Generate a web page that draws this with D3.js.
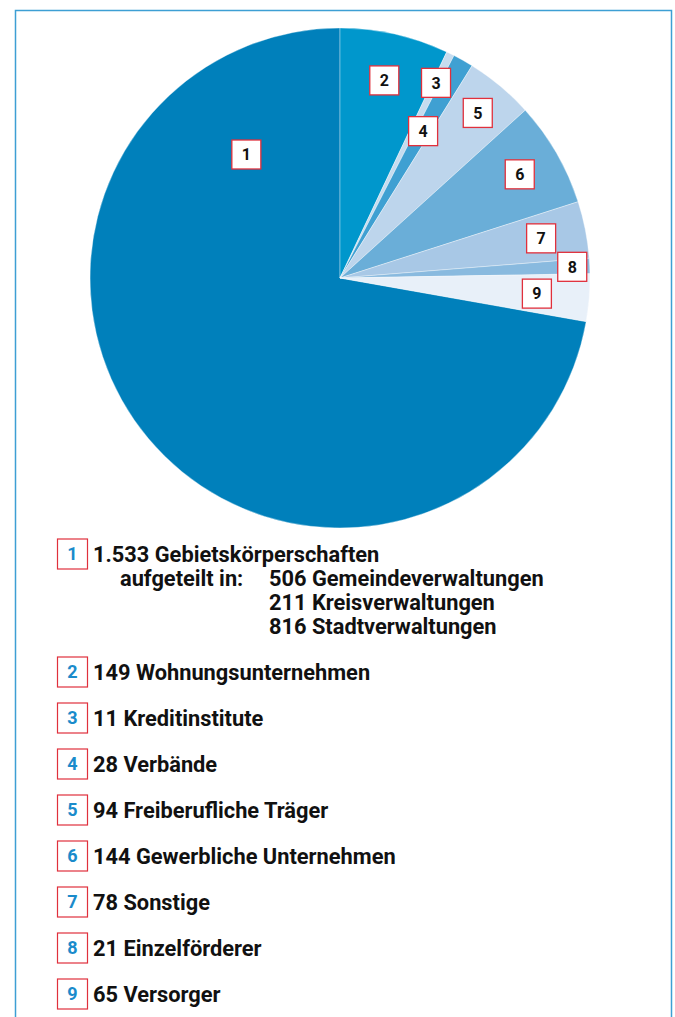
<!DOCTYPE html>
<html>
<head>
<meta charset="utf-8">
<script src="https://cdn.jsdelivr.net/npm/d3@7"></script>
<style>
html, body { margin: 0; padding: 0; background: #fff; }
svg { display: block; }
text { font-family: Roboto, "DejaVu Sans", sans-serif; font-weight: 700; }
</style>
</head>
<body>
<svg id="chart" width="675" height="1017"></svg>
<script>
// ---- data ----
const categories = ["1", "2", "3", "4", "5", "6", "7", "8", "9"];
const values = [1533, 149, 11, 28, 94, 144, 78, 21, 65];
const legendLabels = [
  "1.533 Gebietskörperschaften",
  "149 Wohnungsunternehmen",
  "11 Kreditinstitute",
  "28 Verbände",
  "94 Freiberufliche Träger",
  "144 Gewerbliche Unternehmen",
  "78 Sonstige",
  "21 Einzelförderer",
  "65 Versorger"
];
const subHeading = "aufgeteilt in:";
const subLabels = ["506 Gemeindeverwaltungen", "211 Kreisverwaltungen", "816 Stadtverwaltungen"];

// ---- styles / layout ----
const sliceColors = ["#0080bb", "#0097cc", "#c6dcef", "#3fa0d2", "#bdd5ec", "#6aaed8", "#a8c8e6", "#89badf", "#e8f0f9"];
const W = 675, H = 1017;
const cx = 340, cy = 278, R = 250;
const svg = d3.select("#chart");

// frame
svg.append("path")
  .attr("d", `M15.5,${H} V10.5 H671.5 V${H}`)
  .attr("fill", "none").attr("stroke", "#3d9fd4").attr("stroke-width", 1.5);

const total = d3.sum(values);
const start = 2 * Math.PI * (total - values[0]) / total;
const pie = d3.pie().sort(null).value(d => d.v).startAngle(start).endAngle(start + 2 * Math.PI);
const data = categories.map((c, i) => ({ c, v: values[i], i }));
const arcs = pie(data);
const arc = d3.arc().innerRadius(0).outerRadius(R);

const g = svg.append("g").attr("transform", `translate(${cx},${cy})`);
g.selectAll("path.slice").data(arcs).join("path")
  .attr("class", "slice")
  .attr("d", arc)
  .attr("fill", d => sliceColors[d.data.i])
  .attr("stroke", "rgba(255,255,255,0.45)")
  .attr("stroke-width", 0.8);

// label placement: radius factor per label, and for the big slice a fraction along it
const labelR = { "1": 0.62, "2": 0.81, "3": 0.87, "4": 0.675, "5": 0.86, "6": 0.83, "7": 0.82, "8": 0.93, "9": 0.79 };
const box = 29;
const lab = g.selectAll("g.lab").data(arcs).join("g").attr("class", "lab")
  .attr("transform", d => {
    let a = (d.startAngle + d.endAngle) / 2;
    if (d.data.c === "1") a = d.startAngle + 0.857 * (d.endAngle - d.startAngle);
    const r = R * labelR[d.data.c];
    return `translate(${r * Math.sin(a)},${-r * Math.cos(a)})`;
  });
lab.append("rect")
  .attr("x", -box / 2).attr("y", -box / 2).attr("width", box).attr("height", box)
  .attr("fill", "#fff").attr("stroke", "#e0303c").attr("stroke-width", 1.3);
lab.append("text")
  .attr("text-anchor", "middle").attr("dy", "0.36em")
  .attr("font-size", 16).attr("fill", "#111")
  .text(d => d.data.c);

// ---- legend ----
const fs = 21.8;
const leg = svg.append("g");
const rowY = i => i === 0 ? 554 : 672 + (i - 1) * 46;
const rows = leg.selectAll("g.row").data(categories).join("g").attr("class", "row")
  .attr("transform", (d, i) => `translate(0,${rowY(i)})`);
rows.append("rect")
  .attr("x", 57.5).attr("y", -15).attr("width", 30).attr("height", 30)
  .attr("fill", "#fff").attr("stroke", "#e0303c").attr("stroke-width", 1.2);
rows.append("text")
  .attr("x", 72.5).attr("y", 0).attr("dy", "0.36em").attr("text-anchor", "middle")
  .attr("font-size", 18).attr("fill", "#1a8bcb")
  .text(d => d);
rows.append("text")
  .attr("x", 93).attr("y", 0).attr("dy", "0.36em")
  .attr("font-size", fs).attr("fill", "#111")
  .text((d, i) => legendLabels[i]);

leg.append("text").attr("x", 120).attr("y", 586)
  .attr("font-size", fs).attr("fill", "#111").text(subHeading);
leg.selectAll("text.sub").data(subLabels).join("text").attr("class", "sub")
  .attr("x", 269).attr("y", (d, i) => 586 + i * 24)
  .attr("font-size", fs).attr("fill", "#111").text(d => d);
</script>
</body>
</html>
